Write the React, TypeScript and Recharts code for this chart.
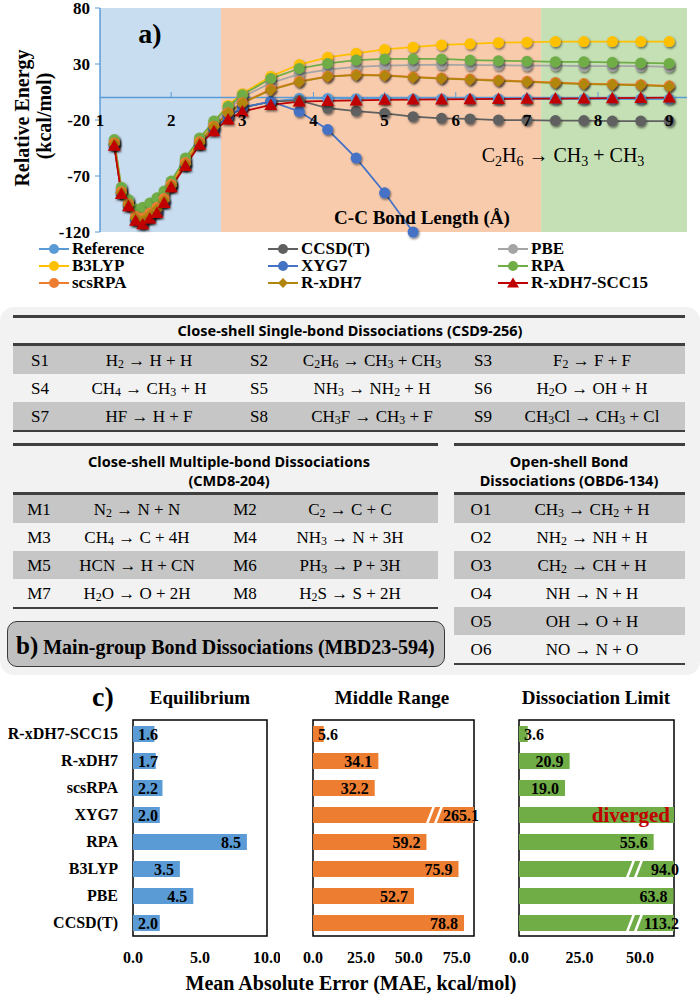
import React from 'react';
import {
  LineChart, Line, XAxis, YAxis, ReferenceArea, ReferenceLine, ReferenceDot,
  BarChart, Bar, LabelList,
} from 'recharts';

const SERIF = '"Liberation Serif", "Times New Roman", serif';
const SANS = '"Noto Sans", "Open Sans", sans-serif';

// ---------- panel a data ----------
const bondLength = [1.2, 1.3, 1.4, 1.5, 1.6, 1.7, 1.8, 1.9, 2.0, 2.2, 2.4, 2.6, 2.8, 3.0, 3.4, 3.8, 4.2, 4.6, 5.0, 5.4, 5.8, 6.2, 6.6, 7.0, 7.4, 7.8, 8.2, 8.6, 9.0];
const reference = [-42, -85, -96, -109, -112, -107, -102, -93, -79, -60, -41, -28, -17, -9, -3.5, -0.6, -0.8, -1, -1.2, -1.3, -1.3, -1.3, -1.3, -1.3, -1.3, -1.3, -1.3, -1.3, -1.3];
const ccsdt = [-42, -85, -96, -109, -112, -107, -102, -93, -79, -60, -41, -28, -17, -9, -3.5, -2.5, -9.5, -12, -14, -17, -18.5, -19, -20, -20, -20.5, -20.5, -21, -21, -21];
const pbe = [-39, -82, -93, -102, -101, -97, -92, -86, -77, -56, -38, -23, -10, 0.5, 13, 21, 25, 27.5, 28.5, 29, 29.5, 29, 29, 28.5, 28.5, 28, 28, 28, 27.5];
const b3lyp = [-38.5, -81.5, -92.5, -101, -100, -96, -91, -85, -76, -55, -37, -21.5, -7, 3.5, 19, 29.5, 36, 39.5, 43, 45, 47, 48, 49, 49.5, 50, 50, 50, 50, 50];
const xyg7 = [-42, -85, -96, -109, -112, -107, -102, -93, -79, -60, -41, -28, -17, -9, -3.5, -12.4, -28.5, -54, -85, -120, null, null, null, null, null, null, null, null, null];
const rpa = [-37.5, -80, -91, -99.5, -98, -94, -89.5, -83.5, -74.5, -54, -36, -21, -8, 2.5, 17, 26, 30.5, 33.5, 34.5, 34.5, 34.5, 33.5, 33, 32.5, 32, 32, 31.5, 31, 30.5];
const scsrpa = [-40.5, -84, -95, -106, -107.5, -103, -98, -90, -77.5, -58, -39.5, -25.5, -13.5, -4.5, 7.5, 14.5, 19, 20.5, 20, 18.5, 17.5, 16.5, 15.5, 14.5, 13.5, 12.5, 12, 11.5, 10.5];
const rxdh7 = [-41.5, -85, -96, -108, -110, -105, -100, -92, -79, -59.5, -40.5, -26, -14, -5, 6.8, 14, 18.7, 20, 19.6, 18, 17, 16, 15, 14, 13, 12, 11.5, 11, 10];
const rxdh7scc15 = [-43, -86, -97, -110, -113, -108, -103, -94, -80, -61, -42, -30, -19.5, -12.5, -6.5, -3.5, -3, -2.5, -2, -1.8, -1.6, -1.4, -1.2, -1, -0.9, -0.7, -0.5, -0.3, 0];

const energyTicks = [-120, -70, -20, 30, 80];
const bondTicks = [1, 2, 3, 4, 5, 6, 7, 8, 9];
const regionEdges = [1, 2.7, 7.2, 9.25];
const regionColors = ['#C9DDF0', '#F8CBAD', '#C5E0B4'];

const series = [
  { key: 'reference', name: 'Reference', color: '#5B9BD5', shape: 'circle', values: reference },
  { key: 'ccsdt', name: 'CCSD(T)', color: '#606060', shape: 'circle', values: ccsdt },
  { key: 'pbe', name: 'PBE', color: '#A5A5A5', shape: 'circle', values: pbe },
  { key: 'b3lyp', name: 'B3LYP', color: '#FFC000', shape: 'circle', values: b3lyp },
  { key: 'xyg7', name: 'XYG7', color: '#4472C4', shape: 'circle', values: xyg7 },
  { key: 'rpa', name: 'RPA', color: '#70AD47', shape: 'circle', values: rpa },
  { key: 'scsrpa', name: 'scsRPA', color: '#ED7D31', shape: 'circle', values: scsrpa },
  { key: 'rxdh7', name: 'R-xDH7', color: '#B0860F', shape: 'diamond', values: rxdh7 },
  { key: 'rxdh7scc15', name: 'R-xDH7-SCC15', color: '#C00000', shape: 'triangle', values: rxdh7scc15 },
];

const curveData = bondLength.map((x, i) => {
  const row: any = { x };
  series.forEach((s) => { row[s.key] = s.values[i]; });
  return row;
});

// ---------- panel b data ----------
const csdLabels = ['S1', 'S2', 'S3', 'S4', 'S5', 'S6', 'S7', 'S8', 'S9'];
const csdReactions = ['H2 → H + H', 'C2H6 → CH3 + CH3', 'F2 → F + F', 'CH4 → CH3 + H', 'NH3 → NH2 + H', 'H2O → OH + H', 'HF → H + F', 'CH3F → CH3 + F', 'CH3Cl → CH3 + Cl'];
const cmdLabels = ['M1', 'M2', 'M3', 'M4', 'M5', 'M6', 'M7', 'M8'];
const cmdReactions = ['N2 → N + N', 'C2 → C + C', 'CH4 → C + 4H', 'NH3 → N + 3H', 'HCN → H + CN', 'PH3 → P + 3H', 'H2O → O + 2H', 'H2S → S + 2H'];
const obdLabels = ['O1', 'O2', 'O3', 'O4', 'O5', 'O6'];
const obdReactions = ['CH3 → CH2 + H', 'NH2 → NH + H', 'CH2 → CH + H', 'NH → N + H', 'OH → O + H', 'NO → N + O'];

// ---------- panel c data ----------
const methods = ['R-xDH7-SCC15', 'R-xDH7', 'scsRPA', 'XYG7', 'RPA', 'B3LYP', 'PBE', 'CCSD(T)'];
const maeEquilibrium = [1.6, 1.7, 2.2, 2.0, 8.5, 3.5, 4.5, 2.0];
const maeMiddle = [5.6, 34.1, 32.2, 265.1, 59.2, 75.9, 52.7, 78.8];
const maeDissociation = [3.6, 20.9, 19.0, null, 55.6, 94.0, 63.8, 113.2];
const eqTicks = [0, 5, 10];
const midTicks = [0, 25, 50, 75];
const dissTicks = [0, 25, 50];

// ---------- helpers ----------
function chem(s: string) {
  const out: any[] = [];
  let buf = '';
  for (let i = 0; i < s.length; i++) {
    const c = s[i];
    const prev = i > 0 ? s[i - 1] : '';
    if (/\d/.test(c) && /[A-Za-z)]/.test(prev)) {
      if (buf) { out.push(buf); buf = ''; }
      out.push(<sub key={i} style={{ fontSize: '0.7em', verticalAlign: '-0.25em', lineHeight: 0 }}>{c}</sub>);
    } else {
      buf += c;
    }
  }
  if (buf) out.push(buf);
  return out;
}

function T(props: { x: number; y: number; children: any; size: number; bold?: boolean; family?: string; anchor?: 'start' | 'middle' | 'end'; color?: string; rotate?: boolean }) {
  const { x, y, children, size, bold, family, anchor = 'middle', color = '#000', rotate } = props;
  const tx = anchor === 'middle' ? '-50%' : anchor === 'end' ? '-100%' : '0';
  return (
    <div style={{
      position: 'absolute', left: x, top: y, whiteSpace: 'nowrap', lineHeight: 1,
      fontSize: size, fontWeight: bold ? 'bold' : 'normal', fontFamily: family || SERIF, color,
      transform: `translate(${tx}, -50%)${rotate ? ' rotate(-90deg)' : ''}`,
      transformOrigin: rotate ? '50% 50%' : undefined,
    }}>{children}</div>
  );
}

const makeDot = (s: any) => (p: any) => {
  const { cx, cy, index } = p;
  const k = `dot-${s.key}-${index}`;
  if (cx == null || cy == null || Number.isNaN(cy) || p.value == null) return <g key={k} />;
  if (s.shape === 'triangle') {
    return <path key={k} d={`M${cx},${cy - 6.5}L${cx + 6.5},${cy + 5}L${cx - 6.5},${cy + 5}Z`} fill={s.color} filter="url(#mkShadow)" />;
  }
  if (s.shape === 'diamond') {
    return <path key={k} d={`M${cx},${cy - 6}L${cx + 6},${cy}L${cx},${cy + 6}L${cx - 6},${cy}Z`} fill={s.color} filter="url(#mkShadow)" />;
  }
  return <circle key={k} cx={cx} cy={cy} r={5.5} fill={s.color} filter="url(#mkShadow)" />;
};

function LegendIcon({ s }: { s: any }) {
  return (
    <svg width={30} height={12} style={{ display: 'block' }}>
      <line x1={0} y1={6} x2={30} y2={6} stroke={s.color} strokeWidth={2} />
      {s.shape === 'triangle' ? <path d="M15,0.5L21,10.5L9,10.5Z" fill={s.color} />
        : s.shape === 'diamond' ? <path d="M15,1L20,6L15,11L10,6Z" fill={s.color} />
          : <circle cx={15} cy={6} r={5} fill={s.color} />}
    </svg>
  );
}

function CurveLegend() {
  const cols = [39, 268, 498];
  const rows = [249, 266, 283];
  return (
    <>
      {series.map((s, i) => (
        <div key={s.key} style={{ position: 'absolute', left: cols[i % 3], top: rows[Math.floor(i / 3)], transform: 'translateY(-50%)', display: 'flex', alignItems: 'center', gap: 3, height: 16 }}>
          <LegendIcon s={s} />
          <span style={{ fontFamily: SERIF, fontWeight: 'bold', fontSize: 17, lineHeight: '16px' }}>{s.name}</span>
        </div>
      ))}
    </>
  );
}

function CurvePanel() {
  return (
    <div style={{ position: 'absolute', left: 0, top: 0 }}>
      <LineChart width={700} height={246} data={curveData} margin={{ top: 8, right: 13, bottom: 14, left: 0 }}>
        {regionColors.map((c, i) => (
          <ReferenceArea key={`reg${i}`} x1={regionEdges[i]} x2={regionEdges[i + 1]} y1={-120} y2={80} fill={c} fillOpacity={1} stroke="none" ifOverflow="visible" />
        ))}
        <XAxis type="number" dataKey="x" domain={[1, 9.25]} hide />
        <YAxis type="number" domain={[-120, 80]} ticks={energyTicks} interval={0} width={100}
          axisLine={{ stroke: '#5B9BD5', strokeWidth: 1.5 }} tickLine={{ stroke: '#5B9BD5' }} tickSize={5} tickMargin={5}
          tick={{ fill: '#000', fontSize: 17, fontWeight: 'bold', fontFamily: SERIF }} />
        <ReferenceLine y={0} stroke="#5B9BD5" strokeWidth={1.5} ifOverflow="visible" />
        {bondTicks.slice(1).map((k) => (
          <ReferenceLine key={`xt${k}`} segment={[{ x: k, y: 0 }, { x: k, y: 5 }]} stroke="#5B9BD5" strokeWidth={1} ifOverflow="visible" />
        ))}
        {series.map((s) => (
          <Line key={s.key} type="linear" dataKey={s.key} stroke={s.color} strokeWidth={1.75}
            dot={makeDot(s)} activeDot={false} isAnimationActive={false} connectNulls={false} />
        ))}
        {bondTicks.map((k) => (
          <ReferenceDot key={`xl${k}`} x={k} y={-20} r={8} ifOverflow="visible" shape={() => <g />}
            label={{ value: String(k), position: 'center', fill: '#000', fontSize: 17, fontWeight: 'bold', fontFamily: SERIF }} />
        ))}
      </LineChart>
      <T x={150} y={34} size={28} bold>a)</T>
      <T x={22} y={118} size={20} bold rotate>Relative Energy</T>
      <T x={44} y={116} size={20} bold rotate>(kcal/mol)</T>
      <T x={422} y={217} size={19} bold>C-C Bond Length (Å)</T>
      <T x={563} y={155} size={20}>{chem('C2H6 → CH3 + CH3')}</T>
    </div>
  );
}

const RULE = '#3F3F3F';
const ROW_GREY = '#C6C6C6';

function Rule({ left, top, width }: { left: number; top: number; width: number }) {
  return <div style={{ position: 'absolute', left, top, width, height: 2.5, background: RULE }} />;
}

function TableRows(props: { labels: string[]; reactions: string[]; perRow: number; top: number; left: number; width: number; labelX: number[]; reactX: number[] }) {
  const { labels, reactions, perRow, top, left, width, labelX, reactX } = props;
  const nRows = Math.ceil(labels.length / perRow);
  const H = 28;
  const out: any[] = [];
  for (let r = 0; r < nRows; r++) {
    const y = top + r * H;
    if (r % 2 === 0) out.push(<div key={`bg${r}`} style={{ position: 'absolute', left, top: y, width, height: H, background: ROW_GREY }} />);
    for (let c = 0; c < perRow; c++) {
      const i = r * perRow + c;
      if (i >= labels.length) continue;
      out.push(<T key={`l${i}`} x={labelX[c]} y={y + H / 2} size={17}>{labels[i]}</T>);
      out.push(<T key={`r${i}`} x={reactX[c]} y={y + H / 2} size={17}>{chem(reactions[i])}</T>);
    }
  }
  return <>{out}</>;
}

function TablePanel() {
  return (
    <>
      <div style={{ position: 'absolute', left: 0, top: 307, width: 700, height: 368, background: '#F2F2F2', borderRadius: 14 }} />
      <Rule left={13} top={315} width={672} />
      <T x={350} y={330} size={14.5} bold family={SANS}>Close-shell Single-bond Dissociations (CSD9-256)</T>
      <Rule left={13} top={343} width={672} />
      <TableRows labels={csdLabels} reactions={csdReactions} perRow={3} top={345.5} left={13} width={672} labelX={[40, 259, 483]} reactX={[149, 372, 592]} />
      <Rule left={13} top={429.5} width={672} />

      <Rule left={13} top={443} width={425} />
      <Rule left={454} top={443} width={231} />
      <T x={229} y={461} size={14.5} bold family={SANS}>Close-shell Multiple-bond Dissociations</T>
      <T x={229} y={480} size={14.5} bold family={SANS}>(CMD8-204)</T>
      <T x={569} y={461} size={14.5} bold family={SANS}>Open-shell Bond</T>
      <T x={569} y={480} size={14.5} bold family={SANS}>Dissociations (OBD6-134)</T>
      <Rule left={13} top={492} width={425} />
      <Rule left={454} top={492} width={231} />
      <TableRows labels={cmdLabels} reactions={cmdReactions} perRow={2} top={494.5} left={13} width={425} labelX={[39, 245]} reactX={[137, 350]} />
      <Rule left={13} top={606.5} width={425} />
      <TableRows labels={obdLabels} reactions={obdReactions} perRow={1} top={494.5} left={454} width={231} labelX={[481]} reactX={[592]} />
      <Rule left={454} top={662.5} width={231} />

      <div style={{ position: 'absolute', left: 7, top: 621, width: 438, height: 46, boxSizing: 'border-box', background: '#C0C0C0', border: '1.5px solid #3A3A3A', borderRadius: 10 }} />
      <div style={{ position: 'absolute', left: 16, top: 645, transform: 'translateY(-50%)', whiteSpace: 'nowrap', fontFamily: SERIF, fontWeight: 'bold', lineHeight: 1 }}>
        <span style={{ fontSize: 25 }}>b)</span><span style={{ fontSize: 20 }}> Main-group Bond Dissociations (MBD23-594)</span>
      </div>
    </>
  );
}

function BrokenBar(p: any) {
  const { x, y, width, height, fill, payload } = p;
  if (width == null || width <= 0) return <g />;
  const bx = x + width - 38;
  return (
    <g>
      <rect x={x} y={y} width={width} height={height} fill={fill} />
      {payload && payload.broken ? (
        <g stroke="#fff" strokeWidth={2.5}>
          <line x1={bx - 9} y1={y + height + 1} x2={bx - 2} y2={y - 1} />
          <line x1={bx - 1} y1={y + height + 1} x2={bx + 6} y2={y - 1} />
        </g>
      ) : null}
    </g>
  );
}

function MaePanel(props: { values: (number | null)[]; max: number; ticks: number[]; color: string; left: number; width: number; showCategories: boolean }) {
  const { values, max, ticks, color, left, width, showCategories } = props;
  const rows = methods.map((name, i) => {
    const v = values[i];
    const diverged = v == null;
    return { name, actual: v, shown: diverged ? max : Math.min(v as number, max), broken: !diverged && (v as number) > max, diverged };
  });
  const renderLabel = (p: any) => {
    const vb = p.viewBox || {};
    const x = p.x ?? vb.x;
    const y = p.y ?? vb.y;
    const w = p.width ?? vb.width;
    const h = p.height ?? vb.height;
    const row = rows[p.index];
    if (!row || x == null) return null;
    const cy = y + h / 2;
    const end = x + w;
    if (row.diverged) {
      return <text key={`lab${p.index}`} x={end - 4} y={cy} textAnchor="end" dominantBaseline="central" fill="#C00000" fontSize={21} fontWeight="bold" fontFamily={SERIF}>diverged</text>;
    }
    const txt = (row.actual as number).toFixed(1);
    const tw = txt.length * 8 - 4;
    let anchor = 'end';
    let tx = end - 6;
    if (row.broken) tx = end + 5;
    else if (tx - tw < x + 5) { anchor = 'start'; tx = x + 5; }
    return <text key={`lab${p.index}`} x={tx} y={cy} textAnchor={anchor} dominantBaseline="central" fill="#000" fontSize={16} fontWeight="bold" fontFamily={SERIF}>{txt}</text>;
  };
  return (
    <div style={{ position: 'absolute', left, top: 700 }}>
      <BarChart width={width} height={270} data={rows} layout="vertical" barSize={16}
        margin={{ top: 20, right: showCategories ? 13 : 20, bottom: 0, left: showCategories ? 0 : 15 }}>
        <XAxis type="number" domain={[0, max]} ticks={ticks} interval={0} tickFormatter={(v: number) => v.toFixed(1)}
          axisLine={false} tickLine={false} tickSize={0} tickMargin={16} height={34}
          tick={{ fill: '#000', fontSize: 16, fontWeight: 'bold', fontFamily: SERIF }} />
        <YAxis type="category" dataKey="name" hide={!showCategories} width={133} interval={0}
          axisLine={false} tickLine={false} tickSize={0} tickMargin={15}
          tick={{ fill: '#000', fontSize: 16, fontWeight: 'bold', fontFamily: SERIF }} />
        <Bar dataKey="shown" fill={color} isAnimationActive={false} shape={BrokenBar}>
          <LabelList dataKey="actual" content={renderLabel} />
        </Bar>
        <ReferenceArea x1={0} x2={max} fill="none" fillOpacity={0} stroke="#000" strokeWidth={1.5} ifOverflow="visible" />
      </BarChart>
    </div>
  );
}

function MaeSection() {
  return (
    <>
      <T x={103} y={697} size={28} bold>c)</T>
      <T x={200} y={697} size={19} bold>Equilibrium</T>
      <T x={392} y={697} size={19} bold>Middle Range</T>
      <T x={596} y={697} size={19} bold>Dissociation Limit</T>
      <MaePanel values={maeEquilibrium} max={10} ticks={eqTicks} color="#5B9BD5" left={0} width={280} showCategories />
      <MaePanel values={maeMiddle} max={84} ticks={midTicks} color="#ED7D31" left={298} width={196} showCategories={false} />
      <MaePanel values={maeDissociation} max={64} ticks={dissTicks} color="#70AD47" left={504} width={190} showCategories={false} />
      <T x={351} y={983} size={20} bold>Mean Absolute Error (MAE, kcal/mol)</T>
    </>
  );
}

export default function App() {
  return (
    <div style={{ position: 'absolute', left: 0, top: 0, width: 700, height: 994, overflow: 'hidden', background: '#fff', fontFamily: SERIF }}>
      <svg width={0} height={0} style={{ position: 'absolute' }}>
        <defs>
          <filter id="mkShadow" x="-60%" y="-60%" width="220%" height="220%">
            <feDropShadow dx="1" dy="1.5" stdDeviation="1.3" floodColor="#000" floodOpacity="0.55" />
          </filter>
        </defs>
      </svg>
      <CurvePanel />
      <CurveLegend />
      <TablePanel />
      <MaeSection />
    </div>
  );
}
